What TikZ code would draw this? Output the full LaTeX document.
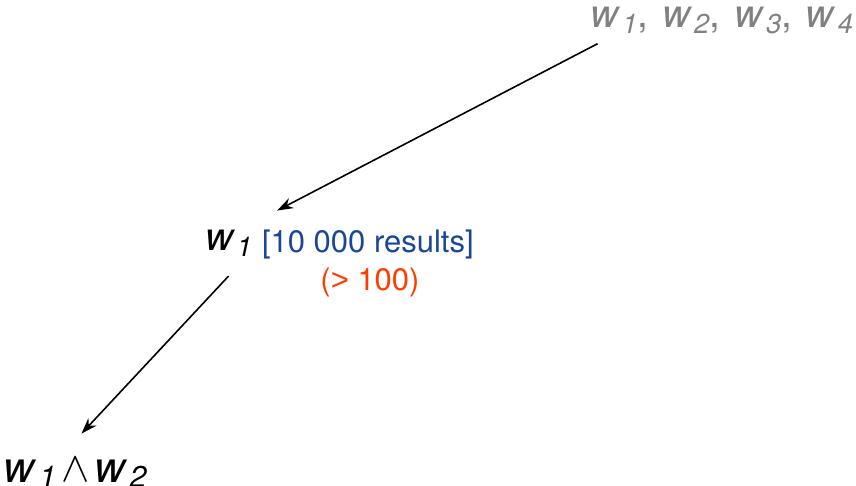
\documentclass[tikz,border=0pt]{standalone}
\usepackage{fontspec}
\setmainfont{TeX Gyre Heros}
\newfontfamily\plainsans{Liberation Sans}
\usetikzlibrary{arrows.meta,calc}
\definecolor{termgray}{RGB}{128,128,128}
\definecolor{countblue}{RGB}{25,70,150}
\definecolor{limitred}{RGB}{255,60,0}
\newcommand{\wsub}[1]{\textit{w}\kern0.05em\raisebox{-0.13em}{\scalebox{0.7}{\textit{#1}}}}

\begin{document}
\begin{tikzpicture}[
  x=1pt, y=-1pt,
  every node/.style={inner sep=0pt, outer sep=0pt},
  term/.style={font=\fontsize{39}{44}\selectfont},
  note/.style={font=\fontsize{31}{36}\selectfont},
  link/.style={-{Stealth[length=16pt,width=11pt]}, line width=1.6pt}
]
\useasboundingbox (0,0) rectangle (856,486);

% query terms
\node[term, text=termgray, anchor=base east] (query) at (853,28)
  {\wsub{1},\hspace{0.35em}\wsub{2},\hspace{0.35em}\wsub{3},\hspace{0.35em}\wsub{4}};

% first term and its count
\node[term, anchor=base west] (first) at (205,251) {\wsub{1}};
\node[note, text=countblue, anchor=base west] (count) at (262,253) {[10 000 results]};
\node[note, text=limitred, anchor=base] (limit) at (370,290) {({\plainsans >} 100)};

% conjunction
\node[term, font=\fontsize{43}{48}\selectfont, anchor=base west] (pair) at (4,482)
  {\wsub{1}\hspace{0.12em}\raisebox{0.02em}{\scalebox{1.7}{$\wedge$}}\hspace{0.12em}\wsub{2}};

% arrows
\draw[link] ($(query.south west)+(7,10)$) -- ($(first.north east)+(25,-20)$);
\draw[link] ($(first.south)+(0,20)$) -- ($(pair.north)+(6,-24)$);
\end{tikzpicture}
\end{document}
